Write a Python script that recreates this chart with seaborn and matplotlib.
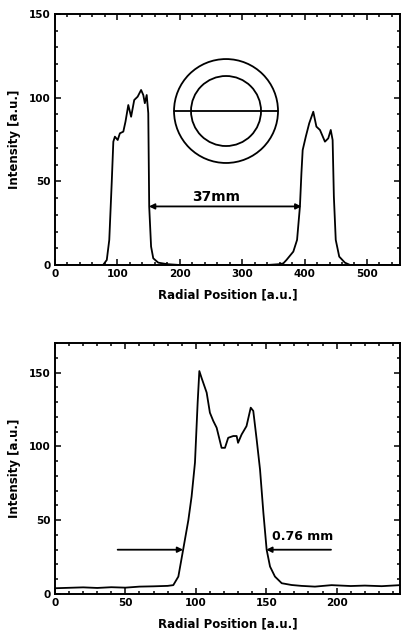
import numpy as np
import pandas as pd
import matplotlib
matplotlib.use("Agg")
import matplotlib.pyplot as plt
from matplotlib.patches import Ellipse
from matplotlib.ticker import MultipleLocator
import seaborn as sns

# ---------------- data ----------------
top_x = [0, 40, 77, 83, 87, 91, 93.5, 96, 100.5, 104, 109.5, 113, 117.5, 122, 127,
         132.5, 138, 141.5, 144, 147, 149.5, 151, 154, 157.5, 165.5, 172, 180, 200,
         250, 300, 340, 360, 366, 371, 382, 388, 392.6, 395, 397, 402, 407.5, 414,
         419, 424.7, 427, 432.7, 438, 442, 445, 447, 450, 455.6, 464.7, 473, 500, 553]
top_y = [0, 0, 0, 3, 15, 50, 73.7, 76.7, 74.7, 78.7, 79.7, 85.7, 95.6, 88.6, 98.6,
         100.6, 104.6, 101.6, 96.7, 101.6, 90.7, 34.9, 11, 4, 1.4, 1, 0.5, 0,
         0, 0, 0, 0.5, 1, 3, 8, 15, 35, 55, 68.7, 76.7, 84.7, 91.6,
         82.7, 80.7, 78.7, 73.7, 75.7, 80.7, 74.7, 40.8, 15, 5, 1.4, 0, 0, 0]

bot_x = [0, 10, 20, 30, 40, 50, 60, 70, 80, 84, 87.6, 91, 94.7, 97, 99.4, 101.3,
         102.5, 104, 107.7, 110, 112.4, 114.8, 118.3, 120.7, 123, 126.6, 129, 130,
         132.5, 136, 139, 140.8, 143.2, 145.6, 148, 150.3, 152.7, 156.2, 161, 168,
         175, 184.6, 196.4, 210, 220, 232, 245]
bot_y = [3.9, 4.2, 4.5, 4.1, 4.6, 4.3, 5, 5.2, 5.5, 6, 11.8, 30, 50, 66, 89, 129.6,
         151, 146.6, 136.4, 122.8, 117.2, 112.6, 99, 99, 105.8, 107, 107, 102.4,
         108, 113.7, 126.2, 124, 104.7, 84.3, 54.8, 30, 18.6, 11.8, 7.3, 6.1,
         5.5, 5, 6, 5.4, 5.7, 5.3, 6]

top_xlim = (0, 553)
top_ylim = (0, 150)
bot_xlim = (0, 245)
bot_ylim = (0, 170)

top_span = (150.6, 395)   # "37mm" arrow end points (x)
top_span_y = 35
top_label = "37mm"
bot_left_arrow = (44.5, 91)
bot_right_arrow = (196, 150)
bot_arrow_y = 30
bot_label = "0.76 mm"

xlabel = "Radial Position [a.u.]"
ylabel = "Intensity [a.u.]"

# ---------------- style ----------------
sns.set_style("ticks")
plt.rcParams["font.family"] = ["DejaVu Sans"]
plt.rcParams["font.weight"] = "bold"
plt.rcParams["axes.labelweight"] = "bold"
plt.rcParams["text.color"] = "black"
plt.rcParams["axes.labelcolor"] = "black"
plt.rcParams["xtick.color"] = "black"
plt.rcParams["ytick.color"] = "black"

fig = plt.figure(figsize=(4.01, 6.37), dpi=100)
ax1 = fig.add_axes([55 / 401, (637 - 265) / 637, 345 / 401, 251 / 637])
ax2 = fig.add_axes([55 / 401, (637 - 594) / 637, 345 / 401, 251 / 637])

df_top = pd.DataFrame({"x": top_x, "y": top_y})
df_bot = pd.DataFrame({"x": bot_x, "y": bot_y})

sns.lineplot(data=df_top, x="x", y="y", ax=ax1, color="black", lw=1.3, sort=False)
sns.lineplot(data=df_bot, x="x", y="y", ax=ax2, color="black", lw=1.3, sort=False)

def style(ax, xlim, ylim, xmaj, xmin):
    ax.set_xlim(*xlim)
    ax.set_ylim(*ylim)
    ax.xaxis.set_major_locator(MultipleLocator(xmaj))
    ax.xaxis.set_minor_locator(MultipleLocator(xmin))
    ax.yaxis.set_major_locator(MultipleLocator(50))
    ax.yaxis.set_minor_locator(MultipleLocator(10))
    ax.tick_params(which="both", direction="in", top=True, right=True,
                   colors="black", labelsize=7.5, pad=3, width=1.1)
    ax.tick_params(which="major", length=4)
    ax.tick_params(which="minor", length=2)
    for s in ax.spines.values():
        s.set_linewidth(1.4)
        s.set_color("black")
    ax.set_xlabel(xlabel, fontsize=8.5, fontweight="bold", labelpad=7, color="black")
    ax.set_ylabel(ylabel, fontsize=8.5, fontweight="bold", labelpad=6, color="black")
    for t in ax.get_xticklabels() + ax.get_yticklabels():
        t.set_fontweight("bold")
        t.set_color("black")

style(ax1, top_xlim, top_ylim, 100, 20)
style(ax2, bot_xlim, bot_ylim, 50, 10)

# ring inset (axes-fraction geometry)
ring_c = (0.4957, 0.6135)
ax1.add_patch(Ellipse(ring_c, 0.3014, 0.414, transform=ax1.transAxes,
                      fill=False, lw=1.3, color="black"))
ax1.add_patch(Ellipse(ring_c, 0.2029, 0.2789, transform=ax1.transAxes,
                      fill=False, lw=1.3, color="black"))
ax1.plot([0.345, 0.646], [ring_c[1], ring_c[1]], transform=ax1.transAxes,
         color="black", lw=1.3)

# 37mm double arrow
ax1.annotate("", xy=(top_span[0], top_span_y), xytext=(top_span[1], top_span_y),
             arrowprops=dict(arrowstyle="<|-|>", color="black", lw=1.3,
                             mutation_scale=8, shrinkA=0, shrinkB=0))
ax1.text(sum(top_span) / 2 - 14, top_span_y + 1.5, top_label, ha="center", va="bottom",
         fontsize=10, fontweight="bold", color="black")

# 0.76 mm arrows
for (a, b) in (bot_left_arrow, bot_right_arrow):
    ax2.annotate("", xy=(b, bot_arrow_y), xytext=(a, bot_arrow_y),
                 arrowprops=dict(arrowstyle="-|>", color="black", lw=1.3,
                                 mutation_scale=8, shrinkA=0, shrinkB=0))
ax2.text(154, bot_arrow_y + 4.5, bot_label, ha="left", va="bottom",
         fontsize=9, fontweight="bold", color="black")

fig.savefig("out.png", dpi=100)
